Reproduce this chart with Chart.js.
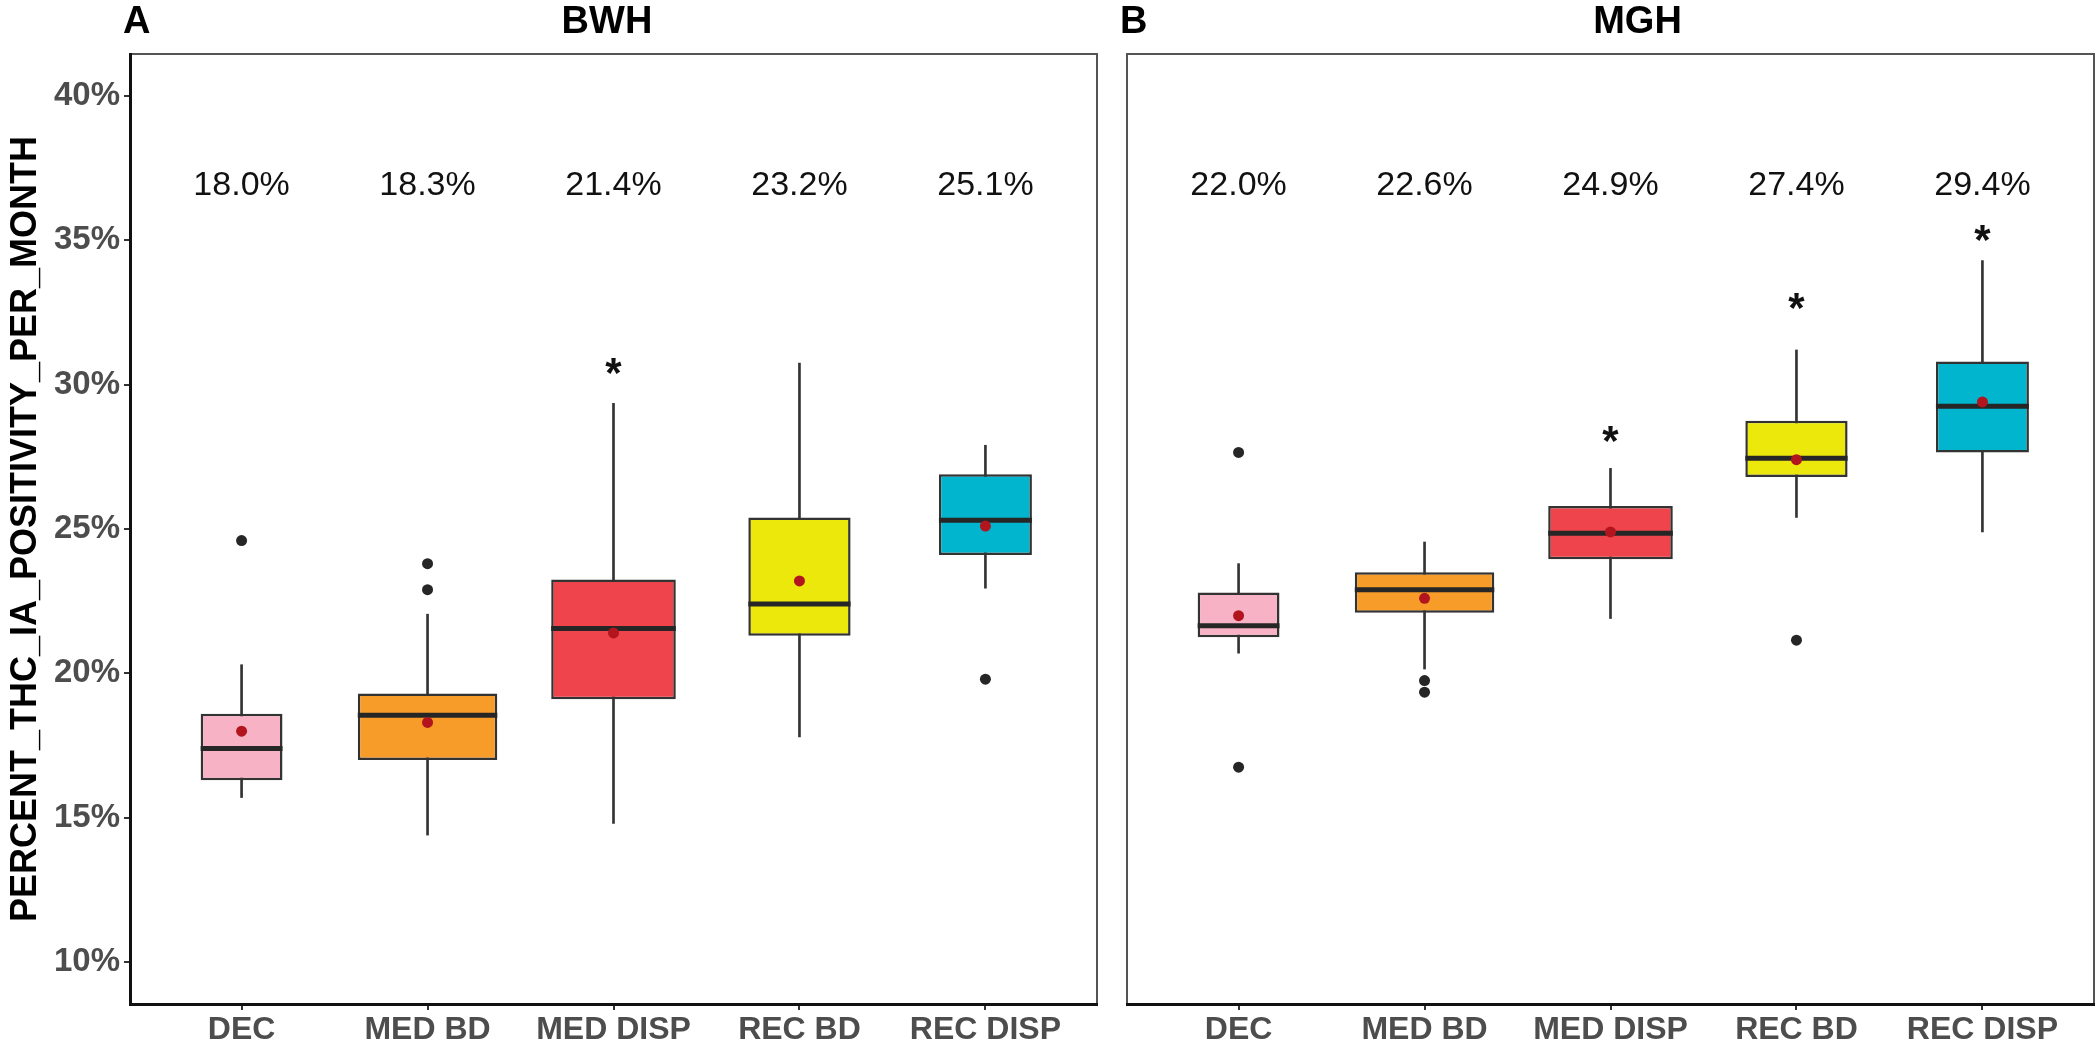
<!DOCTYPE html>
<html>
<head>
<meta charset="utf-8">
<script src="https://cdn.jsdelivr.net/npm/chart.js@4.4.0/dist/chart.umd.min.js"></script>
<style>
  body { margin: 0; background: #fff; }
  #wrap { position: relative; width: 2100px; height: 1043px; }
  canvas { position: absolute; top: 0; }
</style>
</head>
<body>
<div id="wrap">
  <canvas id="bwhChart" width="1112" height="1043" style="left:0"></canvas>
  <canvas id="mghChart" width="988" height="1043" style="left:1112px"></canvas>
</div>
<script>
const categories = ['DEC', 'MED BD', 'MED DISP', 'REC BD', 'REC DISP'];
const yTickValues = [10, 15, 20, 25, 30, 35, 40];

// BWH panel
const bwhMin = [15.7, 14.4, 14.8, 17.8, 22.95];
const bwhQ1 = [16.3, 17.0, 19.1, 21.3, 24.1];
const bwhMedian = [17.4, 18.55, 21.55, 22.4, 25.3];
const bwhQ3 = [18.6, 19.3, 23.25, 25.4, 26.9];
const bwhMax = [20.3, 22.05, 29.35, 30.75, 27.9];
const bwhMean = [18.0, 18.3, 21.4, 23.2, 25.1];
const bwhOutliers = [[24.6], [22.9, 23.8], [], [], [19.8]];
const bwhStars = [null, null, 30.65, null, null];

// MGH panel
const mghMin = [20.7, 20.15, 21.9, 25.4, 24.9];
const mghQ1 = [21.25, 22.1, 23.95, 26.8, 27.65];
const mghMedian = [21.65, 22.9, 24.85, 27.45, 29.25];
const mghQ3 = [22.8, 23.5, 25.8, 28.75, 30.8];
const mghMax = [23.8, 24.55, 27.1, 31.2, 34.3];
const mghMean = [22.0, 22.6, 24.9, 27.4, 29.4];
const mghOutliers = [[27.65, 16.75], [19.75, 19.35], [], [21.15], []];
const mghStars = [null, null, 28.3, 32.9, 35.25];

const labelLevel = 36.9;

// styling
const fills = ['#F7B2C5', '#F89C29', '#EF444C', '#EDE80C', '#00B5CD'];
const boxWidths = [0.44, 0.75, 0.67, 0.55, 0.5];
const FONT = '"Liberation Sans", Arial, sans-serif';

function buildDatasets(mins, q1, med, q3, maxs, means, outliers) {
  const sets = [];
  // whiskers, drawn under the boxes
  sets.push({
    type: 'bar',
    data: categories.map((c, i) => ({ x: i, y: [mins[i], maxs[i]] })),
    backgroundColor: '#333',
    barThickness: 2,
    grouped: false,
    order: 3
  });
  categories.forEach((c, i) => {
    sets.push({
      type: 'bar',
      data: [{ x: i, y: [q1[i], q3[i]] }],
      median: med[i],
      backgroundColor: fills[i],
      borderColor: '#333',
      borderWidth: 2.5,
      borderSkipped: false,
      grouped: false,
      barPercentage: boxWidths[i],
      categoryPercentage: 1,
      order: 2
    });
  });
  const outPts = [];
  outliers.forEach((vals, i) => vals.forEach(v => outPts.push({ x: i, y: v })));
  sets.push({
    type: 'scatter',
    data: outPts,
    pointRadius: 5.5,
    backgroundColor: '#262626',
    borderWidth: 0,
    order: 1
  });
  sets.push({
    type: 'scatter',
    data: means.map((m, i) => ({ x: i, y: m })),
    pointRadius: 5.5,
    backgroundColor: '#B2151E',
    borderWidth: 0,
    order: 0
  });
  return sets;
}

function panelPlugin(tag, title, titleShift, means, stars) {
  return {
    id: 'panel' + tag,
    beforeDraw(chart) {
      const { ctx, chartArea: a } = chart;
      ctx.save();
      ctx.strokeStyle = '#555';
      ctx.lineWidth = 2;
      ctx.strokeRect(a.left, a.top, a.right - a.left, a.bottom - a.top);
      ctx.restore();
    },
    afterDatasetDraw(chart, args) {
      // median line right after its box
      const ds = chart.data.datasets[args.index];
      if (ds.median === undefined) return;
      const el = args.meta.data[0];
      const y = chart.scales.y.getPixelForValue(ds.median);
      const ctx = chart.ctx;
      ctx.save();
      ctx.strokeStyle = '#262626';
      ctx.lineWidth = 5;
      ctx.beginPath();
      ctx.moveTo(el.x - el.width / 2, y);
      ctx.lineTo(el.x + el.width / 2, y);
      ctx.stroke();
      ctx.restore();
    },
    afterDraw(chart) {
      const { ctx, chartArea: a, scales } = chart;
      ctx.save();
      ctx.fillStyle = '#111';
      ctx.textAlign = 'center';
      ctx.textBaseline = 'middle';
      ctx.font = '34px ' + FONT;
      means.forEach((m, i) => {
        ctx.fillText(m.toFixed(1) + '%', scales.x.getPixelForValue(i), scales.y.getPixelForValue(labelLevel));
      });
      ctx.font = 'bold 42px ' + FONT;
      ctx.textBaseline = 'alphabetic';
      const mt = ctx.measureText('*');
      const mid = (mt.actualBoundingBoxAscent - mt.actualBoundingBoxDescent) / 2;
      stars.forEach((s, i) => {
        if (s === null) return;
        ctx.fillText('*', scales.x.getPixelForValue(i), scales.y.getPixelForValue(s) + mid);
      });
      ctx.fillStyle = '#000';
      ctx.textBaseline = 'middle';
      ctx.font = 'bold 38px ' + FONT;
      ctx.textAlign = 'left';
      ctx.fillText(tag, a.left - 7, 23);
      ctx.textAlign = 'center';
      ctx.fillText(title, (a.left + a.right) / 2 + titleShift, 23);
      ctx.restore();
    }
  };
}

function xScale() {
  return {
    type: 'linear',
    min: -0.6,
    max: 4.6,
    bounds: 'data',
    offset: false,
    afterBuildTicks: s => { s.ticks = categories.map((c, i) => ({ value: i })); },
    afterFit: s => { s.height = 39; },
    ticks: {
      autoSkip: false,
      maxRotation: 0,
      padding: 1,
      color: '#4d4d4d',
      font: { family: FONT, size: 32, weight: 'bold' },
      callback: v => categories[v]
    },
    grid: { display: true, offset: false, drawOnChartArea: false, drawTicks: true, tickLength: 6, color: '#333', lineWidth: 2 },
    border: { display: true, color: '#111', width: 3 }
  };
}

function makeChart(id, sets, plugin, showY, padLeft, padRight) {
  const yScale = {
    type: 'linear',
    min: 8.55,
    max: 41.45,
    bounds: 'data',
    display: showY,
    afterBuildTicks: s => { s.ticks = yTickValues.map(v => ({ value: v })); },
    ticks: {
      padding: 4,
      color: '#4d4d4d',
      font: { family: FONT, size: 33, weight: 'bold' },
      callback: v => v + '%'
    },
    grid: { display: true, drawOnChartArea: false, drawTicks: true, tickLength: 6, color: '#333', lineWidth: 2 },
    border: { display: true, color: '#111', width: 3 },
    title: {
      display: true,
      text: 'PERCENT_THC_IA_POSITIVITY_PER_MONTH',
      color: '#000',
      padding: { top: 4, bottom: 0 },
      font: { family: FONT, size: 36, weight: 'bold' }
    }
  };
  if (showY) yScale.afterFit = s => { s.width = 130; };
  return new Chart(document.getElementById(id), {
    type: 'bar',
    data: { datasets: sets },
    options: {
      responsive: false,
      animation: false,
      layout: { padding: { left: padLeft, right: padRight, top: 54, bottom: 0 } },
      plugins: { legend: { display: false }, tooltip: { enabled: false } },
      scales: { x: xScale(), y: yScale }
    },
    plugins: [plugin]
  });
}

makeChart('bwhChart',
  buildDatasets(bwhMin, bwhQ1, bwhMedian, bwhQ3, bwhMax, bwhMean, bwhOutliers),
  panelPlugin('A', 'BWH', -6.5, bwhMean, bwhStars), true, 0, 15);

makeChart('mghChart',
  buildDatasets(mghMin, mghQ1, mghMedian, mghQ3, mghMax, mghMean, mghOutliers),
  panelPlugin('B', 'MGH', 27, mghMean, mghStars), false, 15, 6);
</script>
</body>
</html>
